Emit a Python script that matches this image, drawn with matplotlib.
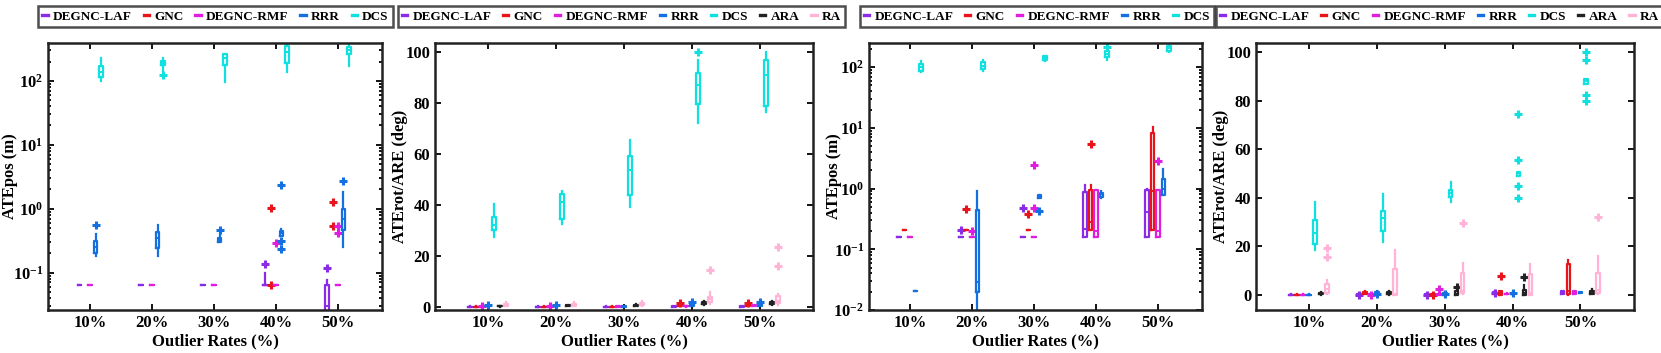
import numpy as np
import matplotlib
matplotlib.use("Agg")
import matplotlib.pyplot as plt
from matplotlib.lines import Line2D

plt.rcParams['font.family'] = ['Liberation Serif', 'DejaVu Serif']
plt.rcParams['font.weight'] = 'bold'
plt.rcParams['mathtext.fontset'] = 'custom'
plt.rcParams['mathtext.rm'] = 'Liberation Serif:bold'
plt.rcParams['mathtext.bf'] = 'Liberation Serif:bold'
plt.rcParams['mathtext.it'] = 'Liberation Serif:bold'

# --- data: per method, per outlier rate (whislo, q1, med, q3, whishi, fliers) ---
rates = ['10%', '20%', '30%', '40%', '50%']

names5 = ['DEGNC-LAF', 'GNC', 'DEGNC-RMF', 'RRR', 'DCS']
names7 = ['DEGNC-LAF', 'GNC', 'DEGNC-RMF', 'RRR', 'DCS', 'ARA', 'RA']
colors = {'DEGNC-LAF': '#8a2be8', 'GNC': '#e8141b', 'DEGNC-RMF': '#e01ee0',
          'RRR': '#1470e0', 'DCS': '#10e0e0', 'ARA': '#222222', 'RA': '#ffb3d6'}

# panel 1 : ATEpos (m), log
p1_laf = [(0.063, 0.063, 0.063, 0.063, 0.063, []), (0.063, 0.063, 0.063, 0.063, 0.063, []),
          (0.063, 0.063, 0.063, 0.063, 0.063, []), (0.063, 0.063, 0.063, 0.063, 0.10, [0.135]),
          (0.01, 0.015, 0.03, 0.063, 0.077, [0.12])]
p1_gnc = [(0.01, 0.01, 0.01, 0.01, 0.01, []), (0.01, 0.01, 0.01, 0.01, 0.01, []),
          (0.01, 0.01, 0.01, 0.01, 0.01, []), (0.01, 0.01, 0.01, 0.01, 0.01, [0.063, 1.02]),
          (0.01, 0.01, 0.01, 0.01, 0.01, [0.53, 1.27])]
p1_rmf = [(0.063, 0.063, 0.063, 0.063, 0.063, []), (0.063, 0.063, 0.063, 0.063, 0.063, []),
          (0.063, 0.063, 0.063, 0.063, 0.063, []), (0.063, 0.063, 0.063, 0.063, 0.063, [0.29]),
          (0.063, 0.063, 0.063, 0.063, 0.063, [0.42, 0.53])]
p1_rrr = [(0.18, 0.20, 0.25, 0.31, 0.40, [0.56]), (0.185, 0.24, 0.35, 0.43, 0.55, []),
          (0.30, 0.30, 0.32, 0.35, 0.40, [0.47]), (0.38, 0.38, 0.41, 0.44, 0.48, [0.235, 0.31, 2.37]),
          (0.25, 0.46, 0.68, 1.0, 1.8, [2.67])]
p1_dcs = [(100, 114, 135, 168, 226, []), (140, 178, 190, 205, 226, [124]),
          (97, 178, 226, 264, 264, []), (135, 189, 287, 344, 390, []),
          (168, 264, 305, 336, 400, [])]

# panel 2 : ATErot/ARE (deg)
p2_laf = [(0.05, 0.05, 0.1, 0.15, 0.2, []), (0.05, 0.05, 0.1, 0.15, 0.2, []),
          (0.05, 0.05, 0.1, 0.15, 0.2, []), (0.1, 0.15, 0.2, 0.3, 0.4, []),
          (0.1, 0.15, 0.2, 0.3, 0.4, [])]
p2_gnc = [(0.05, 0.05, 0.1, 0.15, 0.2, []), (0.05, 0.05, 0.1, 0.15, 0.2, []),
          (0.05, 0.05, 0.1, 0.15, 0.2, []), (0.2, 0.4, 0.7, 1.1, 1.4, [1.5]),
          (0.2, 0.3, 0.7, 1.2, 1.4, [1.5])]
p2_rmf = [(0.1, 0.15, 0.2, 0.25, 0.3, [0.3]), (0.1, 0.15, 0.2, 0.25, 0.3, [0.3]),
          (0.05, 0.1, 0.15, 0.2, 0.25, []), (0.1, 0.2, 0.3, 0.4, 0.5, []),
          (0.2, 0.3, 0.5, 0.6, 0.8, [])]
p2_rrr = [(0.1, 0.2, 0.3, 0.5, 0.7, [0.6]), (0.1, 0.2, 0.3, 0.5, 0.7, [0.6]),
          (0.05, 0.1, 0.15, 0.2, 0.25, []), (0.2, 0.3, 0.6, 1.0, 1.3, [1.8]),
          (0.3, 0.5, 0.9, 1.5, 1.8, [2.0])]
p2_dcs = [(27.5, 30.1, 32.1, 35.1, 40.4, []), (32.5, 34.3, 41.0, 44.3, 45.6, []),
          (39.3, 43.9, 53.7, 59.2, 65.5, []), (72.3, 79.7, 87.2, 91.7, 97.0, [100.0]),
          (76.4, 78.9, 91.1, 96.7, 100.0, [])]
p2_ara = [(0.1, 0.2, 0.3, 0.4, 0.5, []), (0.2, 0.3, 0.5, 0.6, 0.8, []),
          (0.3, 0.4, 0.6, 0.8, 1.0, []), (0.7, 1.0, 1.4, 1.9, 2.2, []),
          (0.8, 1.2, 1.5, 2.0, 2.4, [])]
p2_ra = [(0.2, 0.4, 0.8, 1.2, 1.8, []), (0.2, 0.4, 0.8, 1.2, 1.8, []),
         (0.3, 0.6, 1.1, 1.6, 2.5, []), (1.0, 2.0, 3.0, 4.0, 6.0, [14.3]),
         (0.8, 1.5, 2.5, 4.2, 5.0, [16.2, 23.5])]

# panel 3 : ATEpos (m), log
p3_laf = [(0.16, 0.16, 0.16, 0.16, 0.16, []), (0.16, 0.16, 0.16, 0.16, 0.16, [0.205]),
          (0.16, 0.16, 0.16, 0.16, 0.16, [0.47]), (0.16, 0.16, 0.22, 0.88, 1.13, []),
          (0.16, 0.16, 0.41, 0.94, 1.0, [])]
p3_gnc = [(0.21, 0.21, 0.21, 0.21, 0.21, []), (0.21, 0.21, 0.21, 0.21, 0.21, [0.46]),
          (0.21, 0.21, 0.21, 0.21, 0.21, [0.38]), (0.206, 0.206, 0.28, 0.94, 1.13, [5.36]),
          (0.21, 0.21, 0.9, 8.2, 10.3, [])]
p3_rmf = [(0.16, 0.16, 0.16, 0.16, 0.16, []), (0.16, 0.16, 0.16, 0.16, 0.16, [0.2]),
          (0.16, 0.16, 0.16, 0.16, 0.16, [0.47, 2.42]), (0.16, 0.16, 0.2, 0.93, 0.93, []),
          (0.16, 0.16, 0.2, 0.93, 0.93, [2.8])]
p3_rrr = [(0.0205, 0.0205, 0.0205, 0.0205, 0.0205, []), (0.008, 0.02, 0.029, 0.45, 0.92, []),
          (0.71, 0.71, 0.75, 0.78, 0.78, [0.43]), (0.70, 0.73, 0.8, 0.86, 0.9, []),
          (0.78, 0.78, 1.0, 1.46, 2.13, [])]
p3_dcs = [(83, 88, 100, 113, 124, []), (85, 94, 106, 120, 132, []),
          (128, 132, 142, 150, 155, []), (132, 146, 165, 188, 188, [215]),
          (177, 187, 210, 227, 260, [])]

# panel 4 : ATErot/ARE (deg)
p4_laf = [(0.0, 0.05, 0.1, 0.15, 0.2, []), (0.0, 0.0, 0.1, 0.2, 0.2, [0.1]),
          (0.0, 0.0, 0.1, 0.2, 0.2, [0.1]), (0.2, 0.3, 0.8, 1.2, 1.5, [1.0]),
          (0.2, 0.3, 1.0, 1.6, 1.8, [])]
p4_gnc = [(0.0, 0.05, 0.1, 0.15, 0.2, []), (0.2, 0.2, 0.8, 1.2, 1.8, []),
          (0.0, 0.0, 0.1, 0.2, 0.2, [0.1]), (0.0, 0.0, 0.8, 1.6, 1.6, [7.8]),
          (0.0, 0.5, 1.5, 12.9, 14.3, [])]
p4_rmf = [(0.0, 0.05, 0.1, 0.15, 0.2, []), (0.0, 0.0, 0.1, 0.2, 0.2, [0.1]),
          (0.0, 0.0, 0.1, 0.2, 0.3, [2.5]), (0.2, 0.3, 0.4, 0.5, 0.6, []),
          (0.3, 0.5, 1.0, 1.5, 1.6, [])]
p4_rrr = [(0.0, 0.05, 0.1, 0.15, 0.2, []), (0.0, 0.1, 0.5, 1.2, 1.5, [0.5]),
          (0.0, 0.0, 0.5, 1.0, 1.2, [0.5]), (0.1, 0.2, 0.6, 1.0, 1.2, [0.8]),
          (0.8, 0.8, 1.0, 1.3, 1.3, [])]
p4_dcs = [(18.7, 20.9, 25.6, 30.8, 38.1, []), (21.6, 26.4, 31.5, 34.7, 41.4, []),
          (38.1, 40.2, 42.1, 43.2, 46.6, []), (49.0, 49.0, 50.1, 50.8, 50.8, [40.0, 45.0, 55.6, 74.6]),
          (86.9, 86.9, 87.9, 88.9, 88.9, [79.9, 82.1, 96.6, 100.0])]
p4_ara = [(0.1, 0.3, 0.6, 0.8, 1.2, []), (0.0, 0.3, 0.8, 1.2, 1.8, []),
          (0.0, 0.0, 0.5, 1.5, 2.0, [3.3]), (0.0, 0.0, 1.0, 2.2, 4.0, [7.2]),
          (0.2, 0.5, 1.1, 1.6, 2.6, [])]
p4_ra = [(0.5, 0.8, 2.6, 4.7, 6.0, [15.7, 19.4]), (0.0, 0.0, 0.5, 10.5, 18.4, []),
         (0.3, 0.8, 1.5, 9.1, 13.2, [29.7]), (0.0, 0.0, 1.0, 8.8, 12.9, []),
         (0.5, 0.8, 2.0, 9.1, 16.0, [31.9])]

panels = [
    (names5, [p1_laf, p1_gnc, p1_rmf, p1_rrr, p1_dcs], 'ATEpos (m)', True, (0.026, 390), (0.32, 5.71)),
    (names7, [p2_laf, p2_gnc, p2_rmf, p2_rrr, p2_dcs, p2_ara, p2_ra], 'ATErot/ARE (deg)', False, (-1.2, 103.5), (0.22, 5.78)),
    (names5, [p3_laf, p3_gnc, p3_rmf, p3_rrr, p3_dcs], 'ATEpos (m)', True, (0.01, 250), (0.34, 5.71)),
    (names7, [p4_laf, p4_gnc, p4_rmf, p4_rrr, p4_dcs, p4_ara, p4_ra], 'ATErot/ARE (deg)', False, (-6.2, 103.7), (0.22, 5.79)),
]

# axes rectangles (pixels: left, width), legend centers, ylabel x (axes fraction)
ax_px = [(48, 334), (435, 378), (869, 333), (1256, 378)]
leg_cx = [215.5, 621.5, 1037, 1439.5]
ylab_x = [-0.09, -0.071, -0.081, -0.071]
W, H = 1661, 353

fig = plt.figure(figsize=(W / 100, H / 100), dpi=100)

step = 0.088
bw = 0.055

for k, (names, series, ylabel, logy, ylim, xlim) in enumerate(panels):
    l, w = ax_px[k]
    ax = fig.add_axes([l / W, (H - 310) / H, w / W, 267 / H])
    c = (len(names) - 1) / 2
    for i, (name, stats) in enumerate(zip(names, series)):
        col = colors[name]
        bstats = []
        for s in stats:
            bstats.append(dict(whislo=s[0], q1=s[1], med=s[2], q3=s[3], whishi=s[4], fliers=s[5]))
        pos = np.arange(1, 6) + (i - c) * step
        ax.bxp(bstats, positions=pos, widths=bw, showcaps=False, manage_ticks=False,
               boxprops=dict(color=col, linewidth=1.6),
               whiskerprops=dict(color=col, linewidth=1.6),
               medianprops=dict(color=col, linewidth=1.4),
               flierprops=dict(marker='+', markeredgecolor=col, markersize=6, markeredgewidth=2.2))
    if logy:
        ax.set_yscale('log')
    ax.set_ylim(*ylim)
    ax.set_xlim(*xlim)
    ax.set_xticks(range(1, 6))
    ax.set_xticklabels(rates)
    if not logy:
        ax.set_yticks([0, 20, 40, 60, 80, 100])
    ax.tick_params(axis='both', which='both', direction='in', top=True, right=True,
                   labelsize=12, width=1.3)
    ax.tick_params(axis='both', which='major', length=4)
    ax.tick_params(axis='both', which='minor', length=2)
    for sp in ax.spines.values():
        sp.set_linewidth(1.8)
        sp.set_color('#222222')
    ax.set_xlabel('Outlier Rates (%)', fontsize=12, fontweight='bold', labelpad=2)
    ax.set_ylabel(ylabel, fontsize=12, fontweight='bold')
    ax.yaxis.set_label_coords(ylab_x[k], 0.5)

    handles = [Line2D([], [], color=colors[n], linewidth=2.4) for n in names]
    leg = fig.legend(handles, names, loc='center', bbox_to_anchor=(leg_cx[k] / W, (H - 16.5) / H),
                     ncol=len(names), handlelength=0.4, handletextpad=0.4,
                     columnspacing=0.9, fancybox=False, borderpad=0.3, borderaxespad=0.0,
                     prop={'weight': 'bold', 'size': 9.5})
    leg.get_frame().set_edgecolor('#222222')
    leg.get_frame().set_linewidth(1.8)

fig.savefig('out.png', dpi=100)
